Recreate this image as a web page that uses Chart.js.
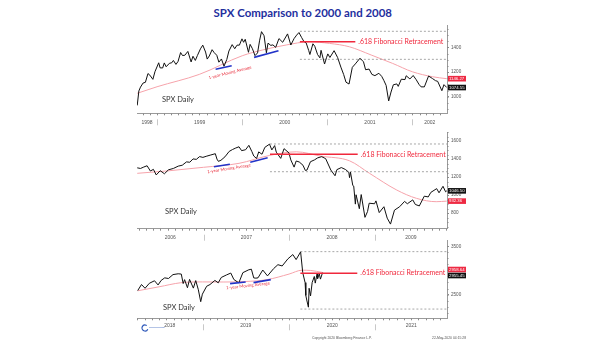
<!DOCTYPE html>
<html>
<head>
<meta charset="utf-8">
<script src="https://cdn.jsdelivr.net/npm/chart.js@4.4.1/dist/chart.umd.min.js"></script>
<style>
  body { margin: 0; width: 605px; height: 341px; background: #fff; position: relative; overflow: hidden; }
  canvas { position: absolute; left: 0; }
  #title { position: absolute; left: 0; top: 5px; width: 605px; text-align: center; line-height: 14px; }
  #title span { display: inline-block; font: bold 11.5px Lato, sans-serif; color: #1f2f9e; transform-origin: center; white-space: nowrap; }
</style>
</head>
<body>
<div id="title"><span>SPX Comparison to 2000 and 2008</span></div>
<canvas id="p1" width="605" height="110" style="top:20px;width:605px;height:110px"></canvas>
<canvas id="p2" width="605" height="115" style="top:127px;width:605px;height:115px"></canvas>
<canvas id="p3" width="605" height="105" style="top:236px;width:605px;height:105px"></canvas>
<script>
// ---------- 1998 - 2002 panel
const range2000 = ['1998-10-07', '2002-05-29'];
const yRange2000 = [866, 1581];
const dates2000 = ['1998-10-08','1998-10-15','1998-10-22','1998-11-02','1998-11-12','1998-11-23','1998-12-01','1998-12-14','1998-12-23',
  '1999-01-08','1999-01-14','1999-01-25','1999-02-01','1999-02-09','1999-02-23','1999-03-05','1999-03-12','1999-03-23','1999-04-01','1999-04-12','1999-04-20',
  '1999-04-30','1999-05-13','1999-05-27','1999-06-04','1999-06-14','1999-06-23','1999-07-06','1999-07-16','1999-07-28','1999-08-04','1999-08-13','1999-08-25',
  '1999-09-03','1999-09-14','1999-09-23','1999-10-04','1999-10-15','1999-10-27','1999-11-05','1999-11-19','1999-11-30','1999-12-10','1999-12-20','1999-12-31',
  '2000-01-07','2000-01-14','2000-01-28','2000-02-04','2000-02-14','2000-02-25','2000-03-07','2000-03-16','2000-03-24','2000-04-04','2000-04-14','2000-04-21',
  '2000-05-03','2000-05-12','2000-05-24','2000-06-07','2000-06-23','2000-07-14','2000-07-28','2000-08-11','2000-08-22','2000-09-01','2000-09-12','2000-09-22',
  '2000-10-02','2000-10-13','2000-10-18','2000-10-31','2000-11-08','2000-11-20','2000-11-30','2000-12-05','2000-12-20','2000-12-29',
  '2001-01-03','2001-01-12','2001-01-30','2001-02-14','2001-02-28','2001-03-12','2001-03-22','2001-04-04','2001-04-18','2001-05-01','2001-05-21','2001-06-05',
  '2001-06-14','2001-06-29','2001-07-11','2001-07-24','2001-08-10','2001-08-22','2001-08-31','2001-09-10','2001-09-21','2001-10-01','2001-10-11','2001-10-26',
  '2001-11-01','2001-11-14','2001-11-30','2001-12-05','2001-12-21',
  '2002-01-04','2002-01-17','2002-01-29','2002-02-07','2002-02-21','2002-03-11','2002-03-28','2002-04-10','2002-04-19','2002-05-07','2002-05-16','2002-05-28'];
const spx2000 = [930,1047,1078,1111,1117,1188,1175,1141,1203,
  1275,1234,1233,1274,1243,1271,1275,1294,1262,1286,1358,1334,
  1336,1367,1282,1328,1294,1334,1388,1418,1362,1305,1330,1381,
  1357,1336,1280,1306,1247,1302,1370,1422,1389,1418,1418,1469,
  1441,1465,1360,1424,1389,1333,1355,1458,1527,1494,1356,1434,
  1416,1420,1400,1471,1441,1509,1419,1471,1499,1520,1481,1448,
  1436,1374,1342,1429,1409,1342,1315,1376,1265,1320,
  1347,1318,1373,1318,1240,1180,1118,1103,1238,1266,1312,1283,
  1219,1224,1181,1171,1190,1165,1133,1092,966,1038,1097,1104,
  1084,1142,1139,1170,1144,
  1172,1138,1100,1080,1080,1168,1147,1130,1125,1049,1098,1075];
const maDates2000 = ['1998-10-08','1999-01-01','1999-07-01','2000-01-01','2000-03-27','2000-07-08','2000-10-15','2001-01-10','2001-04-05','2001-07-08','2001-10-08','2002-01-01','2002-03-28','2002-05-28'];
const ma2000 = [1028,1081,1181,1332,1378,1419,1445,1432,1405,1338,1270,1202,1162,1146.27];
const blueDates2000 = ['1999-09-09','1999-11-17','2000-02-21','2000-06-05'];
const blue2000 = [1222,1251,1319,1372];
const levels2000 = [1530, 1303, 1446];          // high, low, .618
const span2000 = ['2000-09-05', '2001-05-01'];
const last2000 = [1146.27, 1074.55];             // moving average, last price

// ---------- 2006 - 2009 panel
const range2008 = ['2006-03-23', '2009-11-05'];
const yRange2008 = [626, 1700];
const dates2008 = ['2006-03-24','2006-04-07','2006-04-21','2006-05-05','2006-05-19','2006-06-01','2006-06-13','2006-06-30','2006-07-18','2006-08-04','2006-08-25',
  '2006-09-15','2006-10-02','2006-10-20','2006-11-03','2006-11-17','2006-12-01','2006-12-15','2006-12-29',
  '2007-01-12','2007-02-01','2007-02-20','2007-02-27','2007-03-05','2007-03-16','2007-04-02','2007-04-20','2007-05-04','2007-05-18','2007-06-01','2007-06-12',
  '2007-06-29','2007-07-13','2007-07-26','2007-08-03','2007-08-15','2007-08-24','2007-09-07','2007-09-19','2007-10-09','2007-10-19','2007-10-31','2007-11-07',
  '2007-11-26','2007-12-10','2007-12-31',
  '2008-01-08','2008-01-22','2008-01-31','2008-02-13','2008-02-29','2008-03-10','2008-03-17','2008-04-01','2008-04-18','2008-05-02','2008-05-19','2008-06-05',
  '2008-06-27','2008-07-15','2008-07-23','2008-08-11','2008-08-29','2008-09-12','2008-09-15','2008-09-19','2008-09-29','2008-10-03','2008-10-10','2008-10-13',
  '2008-10-27','2008-11-04','2008-11-20','2008-12-01','2008-12-08','2008-12-31',
  '2009-01-06','2009-01-20','2009-02-09','2009-02-23','2009-03-09','2009-03-26','2009-04-17','2009-05-08','2009-05-20','2009-06-12','2009-06-23','2009-07-10',
  '2009-07-31','2009-08-17','2009-08-28','2009-09-22','2009-10-02','2009-10-19','2009-10-30','2009-11-04'];
const spx2008 = [1302,1295,1311,1325,1267,1285,1223,1270,1236,1280,1295,
  1321,1331,1368,1364,1401,1396,1427,1418,
  1430,1445,1459,1399,1374,1386,1424,1484,1505,1522,1536,1493,
  1503,1552,1482,1433,1406,1479,1453,1529,1565,1501,1549,1476,
  1407,1515,1468,
  1390,1310,1378,1367,1331,1273,1277,1370,1390,1413,1426,1404,
  1278,1214,1282,1305,1283,1252,1193,1255,1106,1099,899,1003,
  848,1005,752,816,909,903,
  935,805,870,743,677,832,870,929,903,946,895,879,
  987,979,1029,1071,1025,1097,1036,1046.5];
const maDates2008 = ['2006-03-24','2006-08-01','2007-01-01','2007-06-01','2007-10-10','2008-02-01','2008-05-15','2008-09-15','2008-12-10','2009-04-05','2009-06-28','2009-09-20','2009-11-04'];
const ma2008 = [1241,1268,1308,1352,1440,1480,1432,1380,1240,1055,963,926,932.36];
const blueDates2008 = ['2007-02-14','2007-04-23','2007-07-19','2007-10-01'];
const blue2008 = [1314,1341,1363,1414];
const levels2008 = [1567, 1259, 1452];
const span2008 = ['2007-10-11', '2008-10-20'];
const last2008 = [932.36, 1046.50];

// ---------- 2018 - 2021 panel
const range2020 = ['2018-03-30', '2021-10-30'];
const yRange2020 = [2006, 3617];
const dates2020 = ['2018-04-02','2018-04-18','2018-05-03','2018-05-21','2018-06-12','2018-06-27','2018-07-10','2018-07-25','2018-08-10','2018-08-29','2018-09-20',
  '2018-10-03','2018-10-11','2018-10-17','2018-10-29','2018-11-07','2018-11-23','2018-12-03','2018-12-14','2018-12-24','2018-12-31',
  '2019-01-18','2019-02-01','2019-02-22','2019-03-08','2019-03-21','2019-04-12','2019-04-30','2019-05-13','2019-05-31','2019-06-03','2019-06-20',
  '2019-07-15','2019-07-26','2019-08-05','2019-08-14','2019-08-23','2019-09-12','2019-10-02','2019-10-28','2019-11-15','2019-12-03','2019-12-27',
  '2020-01-17','2020-01-31','2020-02-19','2020-02-28','2020-03-09','2020-03-12','2020-03-16','2020-03-23','2020-03-26','2020-04-01','2020-04-08',
  '2020-04-17','2020-04-21','2020-04-29','2020-05-01','2020-05-08','2020-05-13','2020-05-22'];
const spx2020 = [2582,2708,2630,2733,2786,2699,2793,2846,2833,2914,2931,
  2925,2728,2809,2641,2814,2633,2790,2600,2351,2507,
  2671,2707,2793,2743,2855,2907,2946,2812,2752,2744,2954,
  3014,3026,2845,2840,2847,3009,2887,3039,3120,3093,3240,
  3330,3226,3386,2954,2747,2481,2386,2237,2630,2471,2750,
  2875,2737,2940,2831,2930,2820,2955];
const maDates2020 = ['2018-04-02','2018-07-01','2018-10-01','2019-01-01','2019-04-01','2019-07-01','2019-10-01','2020-01-01','2020-02-25','2020-04-01','2020-05-22'];
const ma2020 = [2578,2660,2745,2762,2760,2770,2810,2925,3005,3000,2958.64];
const blueDates2020 = ['2019-04-27','2019-07-02','2019-08-04','2019-10-16'];
const blue2020 = [2726,2759,2747,2809];
const levels2020 = [3391, 2198, 2944];
const span2020 = ['2020-02-18', '2020-10-16'];
const last2020 = [2958.64, 2955.45];

// decimal year from 'YYYY-MM-DD'
function yr(s) {
  const y = +s.slice(0, 4);
  const d = Date.parse(s + 'T00:00:00Z');
  const a = Date.UTC(y, 0, 1), b = Date.UTC(y + 1, 0, 1);
  return y + (d - a) / (b - a);
}
function pts(dates, vals) {
  return dates.map((d, i) => ({ x: yr(d), y: vals[i] }));
}
// pick a font size so the text takes the given width
function fitText(ctx, text, x, y, w, color, weight) {
  ctx.font = (weight || '') + ' 20px Lato, sans-serif';
  const size = 20 * w / ctx.measureText(text).width;
  ctx.font = (weight || '') + ' ' + size.toFixed(2) + 'px Lato, sans-serif';
  ctx.fillStyle = color;
  ctx.fillText(text, x, y);
}

const panels = {
  p1: { range: range2000, yRange: yRange2000, dates: dates2000, spx: spx2000, maDates: maDates2000, ma: ma2000,
        blueDates: blueDates2000, blue: blue2000, levels: levels2000, span: span2000, last: last2000 },
  p2: { range: range2008, yRange: yRange2008, dates: dates2008, spx: spx2008, maDates: maDates2008, ma: ma2008,
        blueDates: blueDates2008, blue: blue2008, levels: levels2008, span: span2008, last: last2008 },
  p3: { range: range2020, yRange: yRange2020, dates: dates2020, spx: spx2020, maDates: maDates2020, ma: ma2020,
        blueDates: blueDates2020, blue: blue2020, levels: levels2020, span: span2020, last: last2020 }
};
// layout of each canvas (canvas coordinates)
const looks = {
  p1: { padTop: 5, xAxisH: 16.7, labelPad: 6.4, step: 200, spxLabel: [162, 80], maLabel: [230, 52.5, -14] },
  p2: { padTop: 5, xAxisH: 13.3, labelPad: 5.6, step: 200, spxLabel: [165, 84.7], maLabel: [229, 41.5, -9] },
  p3: { padTop: 4, xAxisH: 22.7, labelPad: 4.7, step: 500, spxLabel: [163, 72], maLabel: [248, 49.5, -6.5], footer: true }
};

const decor = {
  id: 'decor',
  afterDraw(chart) {
    const id = chart.canvas.id, p = panels[id], s = looks[id];
    const ctx = chart.ctx, xs = chart.scales.x, ys = chart.scales.y, a = chart.chartArea;
    ctx.save();
    ctx.lineWidth = 1;

    // month ticks and year separators under the date axis
    for (let y = Math.floor(xs.min); y <= Math.ceil(xs.max); y++) {
      for (let m = 1; m <= 12; m++) {
        const v = yr(y + '-' + String(m).padStart(2, '0') + '-01');
        if (v < xs.min || v > xs.max) continue;
        const px = Math.round(xs.getPixelForValue(v)) + 0.5;
        ctx.strokeStyle = '#8c8c8c';
        ctx.beginPath(); ctx.moveTo(px, a.bottom); ctx.lineTo(px, a.bottom + 2); ctx.stroke();
        if (m === 1) {
          ctx.strokeStyle = '#c8c8c8';
          ctx.beginPath(); ctx.moveTo(px, a.bottom + 6); ctx.lineTo(px, a.bottom + 12); ctx.stroke();
        }
      }
    }
    // minor ticks on the price axis
    const minor = s.step / 4;
    ctx.strokeStyle = '#8c8c8c';
    for (let v = Math.ceil(ys.min / minor) * minor; v <= ys.max; v += minor) {
      const py = Math.round(ys.getPixelForValue(v)) + 0.5;
      ctx.beginPath(); ctx.moveTo(a.right, py); ctx.lineTo(a.right + 1.5, py); ctx.stroke();
    }

    // texts
    ctx.textBaseline = 'middle';
    ctx.textAlign = 'left';
    fitText(ctx, 'SPX Daily', s.spxLabel[0], s.spxLabel[1], 32, '#333');
    fitText(ctx, '.618 Fibonacci Retracement', xs.getPixelForValue(yr(p.span[1])) + 3,
      ys.getPixelForValue(p.levels[2]), 85, '#f0283c');
    ctx.save();
    ctx.translate(s.maLabel[0], s.maLabel[1]);
    ctx.rotate(s.maLabel[2] * Math.PI / 180);
    ctx.textAlign = 'center';
    fitText(ctx, '1-year Moving Average', 0, 0, 44, '#e8303e');
    ctx.restore();

    // value boxes on the right axis
    let yMa = ys.getPixelForValue(p.last[0]), yPx = ys.getPixelForValue(p.last[1]);
    if (Math.abs(yMa - yPx) < 6) {
      const mid = (yMa + yPx) / 2, d = yMa < yPx ? -3 : 3;
      yMa = mid + d; yPx = mid - d;
    }
    const box = (y, txt, bg) => {
      ctx.fillStyle = bg;
      ctx.fillRect(a.right + 1, y - 2.8, 18, 5.6);
      ctx.fillStyle = '#fff';
      ctx.font = '4.3px Arial, sans-serif';
      ctx.textAlign = 'left';
      ctx.fillText(txt, a.right + 2, y + 0.2);
    };
    box(yMa, p.last[0].toFixed(2), '#ee2a43');
    box(yPx, p.last[1].toFixed(2), '#111');

    if (s.footer) {
      ctx.fillStyle = '#555';
      ctx.font = '3.4px Arial, sans-serif';
      ctx.fillText('Copyright 2020 Bloomberg Finance L.P.', 312, 102);
      ctx.fillText('22-May-2020 04:15:28', 432, 102);
      // small logo
      ctx.strokeStyle = '#2a55b8';
      ctx.lineWidth = 1.2;
      ctx.beginPath(); ctx.arc(145, 92, 3, 0.4, Math.PI * 1.7); ctx.stroke();
      ctx.fillStyle = '#5a7cc8';
      ctx.font = 'bold 3.4px Arial, sans-serif';
      ctx.fillText('~~~~~~~~', 149, 92.5);
    }
    ctx.restore();
  }
};

function makeChart(id) {
  const p = panels[id], s = looks[id];
  const x0 = yr(p.range[0]), x1 = yr(p.range[1]);
  const fs = yr(p.span[0]), fe = yr(p.span[1]);
  const line = (data, color, width, dash) => ({
    data, borderColor: color, borderWidth: width, borderDash: dash || [],
    pointRadius: 0, fill: false, tension: 0, borderJoinStyle: 'round'
  });
  const datasets = [
    line(pts(p.blueDates.slice(0, 2), p.blue.slice(0, 2)), '#2233c8', 1.6),
    line(pts(p.blueDates.slice(2, 4), p.blue.slice(2, 4)), '#2233c8', 1.6),
    line([{ x: fs, y: p.levels[2] }, { x: fe, y: p.levels[2] }], '#f0283c', 1.5),
    line(pts(p.dates, p.spx), '#111', 1),
    line([{ x: fs, y: p.levels[0] }, { x: x1, y: p.levels[0] }], '#a8a8a8', 1, [2, 2]),
    line([{ x: fs, y: p.levels[1] }, { x: x1, y: p.levels[1] }], '#a8a8a8', 1, [2, 2]),
    Object.assign(line(pts(p.maDates, p.ma), '#f6a3ab', 1), { cubicInterpolationMode: 'monotone' })
  ];
  new Chart(document.getElementById(id), {
    type: 'line',
    data: { datasets },
    options: {
      responsive: false,
      animation: false,
      devicePixelRatio: 1,
      layout: { padding: { left: 137, top: s.padTop, right: 0, bottom: 0 } },
      plugins: { legend: { display: false }, tooltip: { enabled: false } },
      scales: {
        x: {
          type: 'linear', min: x0, max: x1,
          afterBuildTicks: sc => {
            const t = [];
            for (let y = Math.floor(sc.min); y < sc.max; y++) {
              const lo = Math.max(sc.min, y), hi = Math.min(sc.max, y + 1);
              t.push({ value: (lo + hi) / 2 });
            }
            sc.ticks = t;
          },
          afterFit: sc => { sc.height = s.xAxisH; },
          grid: { display: false, drawTicks: false },
          border: { display: true, color: '#9a9a9a' },
          ticks: { autoSkip: false, maxRotation: 0, padding: s.labelPad, color: '#555',
                   font: { size: 5, family: 'Arial' }, callback: v => String(Math.floor(v)) }
        },
        y: {
          position: 'right', min: p.yRange[0], max: p.yRange[1],
          afterBuildTicks: sc => {
            const t = [];
            for (let v = Math.ceil(sc.min / s.step) * s.step; v <= sc.max; v += s.step) t.push({ value: v });
            sc.ticks = t;
          },
          afterFit: sc => { sc.width = 605 - 447; },
          grid: { drawOnChartArea: false, drawTicks: true, tickLength: 2, color: '#8c8c8c' },
          border: { color: '#9a9a9a' },
          ticks: { autoSkip: false, padding: 2, color: '#555',
                   font: { size: 4.6, family: 'Arial' }, callback: v => String(v) }
        }
      }
    },
    plugins: [decor]
  });
}

makeChart('p1');
makeChart('p2');
makeChart('p3');

// squeeze the title to the width it has in the picture
const t = document.querySelector('#title span');
t.style.transform = 'scaleX(' + (178 / t.offsetWidth).toFixed(3) + ')';
</script>
</body>
</html>
